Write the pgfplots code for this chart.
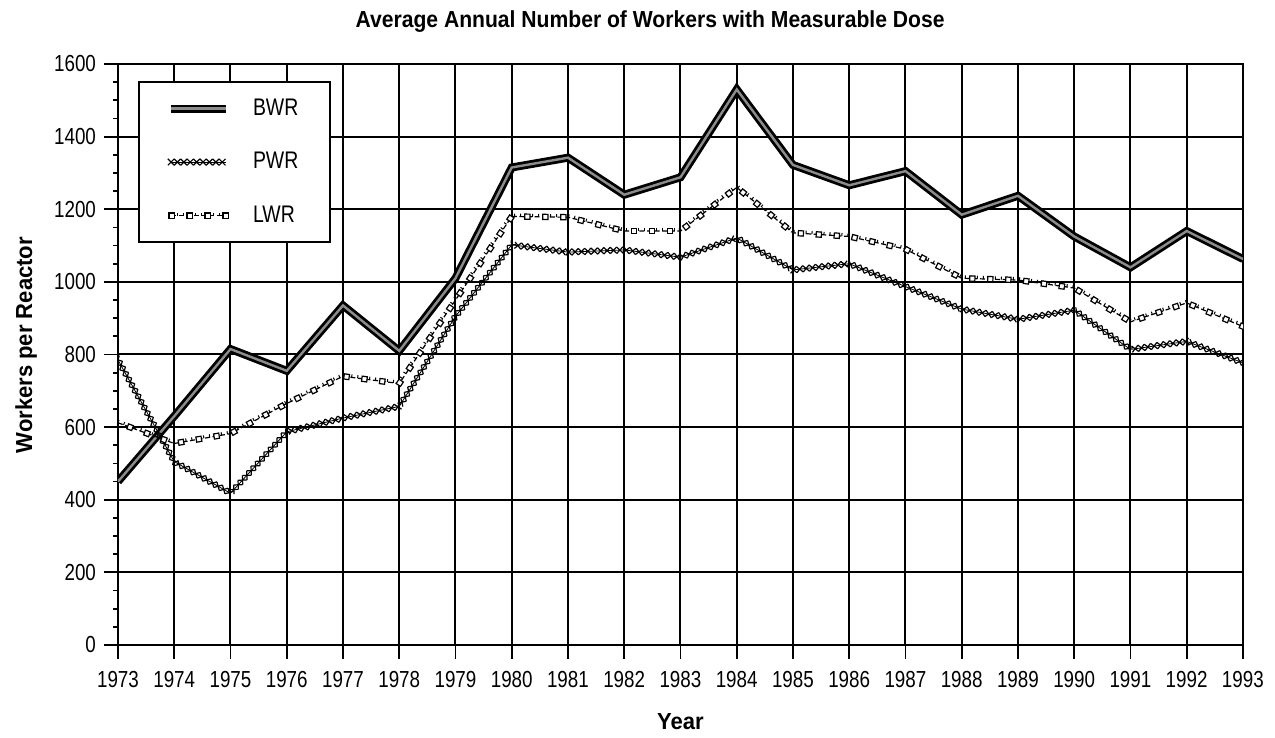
\documentclass[border=0pt]{standalone}
\usepackage{fontspec}
\setmainfont{Liberation Sans}[FakeStretch=0.81]
\newfontfamily\labfont{Liberation Sans}[FakeStretch=0.95]
\newfontfamily\titfont{Liberation Sans}[FakeStretch=0.91]
\usepackage{pgfplots}
\pgfplotsset{compat=1.18}
\usetikzlibrary{decorations.markings}

\tikzset{
  pwrstyle/.style={line width=0.4pt, black,
    postaction={decorate, decoration={markings,
      mark=between positions 0 and 1 step 3.2pt with {
        \draw[solid, line width=0.6pt] (-1.6pt,-1.6pt)--(1.6pt,1.6pt) (-1.6pt,1.6pt)--(1.6pt,-1.6pt);}}}},
  lwrstyle/.style={line width=0.6pt, black, dash pattern=on 2.5pt off 1.3pt,
    postaction={decorate, decoration={markings,
      mark=between positions 0 and 1 step 3pt with {
        \draw[solid, line width=0.5pt] (0pt,0pt)--(0pt,1.5pt);}}},
    postaction={decorate, decoration={markings,
      mark=between positions 0.01 and 1 step 9pt with {
        \draw[solid, line width=0.6pt, fill=white] (-1.3pt,-1.3pt)--(1.3pt,-1.3pt)--(1.3pt,1.3pt)--(-1.3pt,1.3pt)--cycle;}}}},
  bwrstyle/.style={line width=1.4pt, black, double=black!45, double distance=1.2pt, line join=miter}
}

\begin{document}
\begin{tikzpicture}
\begin{axis}[
  name=main,
  scale only axis, width=562.5pt, height=290.5pt,
  xmin=1973, xmax=1993, ymin=0, ymax=1600,
  xtick={1973,...,1993}, ytick={0,200,...,1600},
  minor y tick num=3,
  grid=major, major grid style={black, line width=1pt},
  axis line style={line width=1.4pt},
  tick align=outside, tick pos=left,
  major tick length=7pt, minor tick length=2.5pt,
  every tick/.style={black, line width=0.9pt},
  /pgf/number format/1000 sep={},
  /pgf/number format/assume math mode=true,
  tick label style={font=\fontsize{11.6}{13}\selectfont},
  xticklabel style={yshift=-2.8pt},
  yticklabel style={xshift=-0.5pt},
  title={\titfont\bfseries Average Annual Number of Workers with Measurable Dose},
  title style={at={(axis description cs:0.473,1.043)}, anchor=base, font=\fontsize{11.6}{13}\selectfont},
  xlabel={\labfont\bfseries Year},
  xlabel style={at={(axis description cs:0.5,-0.1463)}, anchor=base, font=\fontsize{11.6}{13}\selectfont},
  ylabel={\labfont\bfseries Workers per Reactor},
  ylabel style={at={(axis description cs:-0.0764,0.516)}, anchor=base, rotate=0, font=\fontsize{11.6}{13}\selectfont},
  legend style={at={(axis description cs:0.0178,0.971)}, anchor=north west,
    draw=black, line width=1pt, fill=white,
    inner xsep=14pt, inner ysep=6.5pt, row sep=13pt, column sep=9.5pt,
    font=\fontsize{12}{14}\selectfont, cells={anchor=west}},
  legend image code/.code={\draw[#1] (0pt,0pt) -- (27.5pt,0pt);},
]
\addplot[bwrstyle] coordinates {
(1973,450) (1974,630) (1975,815) (1976,755) (1977,935) (1978,810) (1979,1010)
(1980,1315) (1981,1342) (1982,1240) (1983,1288) (1984,1530) (1985,1322)
(1986,1266) (1987,1305) (1988,1185) (1989,1237) (1990,1125) (1991,1040)
(1992,1140) (1993,1063)};
\addlegendentry{BWR}
\addplot[pwrstyle] coordinates {
(1973,785) (1974,505) (1975,418) (1976,587) (1977,625) (1978,657) (1979,905)
(1980,1102) (1981,1082) (1982,1088) (1983,1068) (1984,1121) (1985,1033)
(1986,1050) (1987,987) (1988,925) (1989,897) (1990,922) (1991,814)
(1992,836) (1993,777)};
\addlegendentry{PWR}
\addplot[lwrstyle] coordinates {
(1973,612) (1974,555) (1975,582) (1976,665) (1977,740) (1978,720) (1979,950)
(1980,1180) (1981,1178) (1982,1140) (1983,1140) (1984,1260) (1985,1135)
(1986,1125) (1987,1090) (1988,1010) (1989,1005) (1990,983) (1991,890)
(1992,942) (1993,877)};
\addlegendentry{LWR}
\end{axis}
\pgfresetboundingbox
\path ([xshift=-59pt,yshift=-46.5pt]main.south west) rectangle ([xshift=16pt,yshift=32pt]main.north east);
\end{tikzpicture}
\end{document}
